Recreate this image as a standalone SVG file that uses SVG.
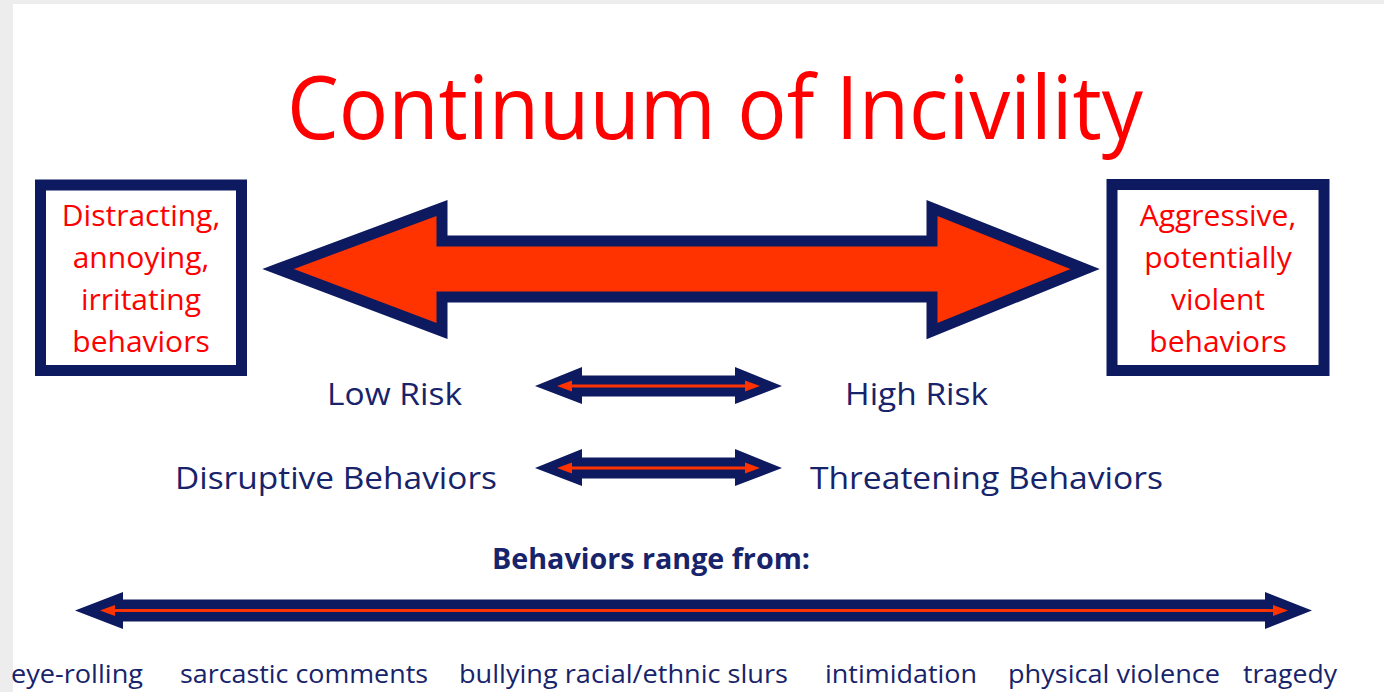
<svg xmlns="http://www.w3.org/2000/svg" width="1384" height="692" viewBox="0 0 1384 692">
<defs>
<style>
.navy{fill:#0E1A5F}
.big{fill:#FF3300;stroke:#0E1A5F;stroke-width:11;stroke-linejoin:miter;stroke-miterlimit:10}
.box{fill:#FFFFFF;stroke:#0E1A5F;stroke-width:11}
.redline{stroke:#FF3300;stroke-width:3;fill:none}
.redhead{fill:#FF3300}
.title{font-family:"Open Sans","Liberation Sans",sans-serif;font-size:87px;fill:#FF0000}
.boxt{font-family:"Open Sans","Liberation Sans",sans-serif;font-size:30px;fill:#FF0000;text-anchor:middle}
.lab{font-family:"Open Sans","Liberation Sans",sans-serif;font-size:31px;fill:#17236A}
.bold{font-family:"Open Sans","Liberation Sans",sans-serif;font-size:29px;font-weight:bold;fill:#17236A}
.small{font-family:"Open Sans","Liberation Sans",sans-serif;font-size:25px;fill:#17236A}
</style>
</defs>
<rect x="0" y="0" width="1384" height="692" fill="#EDEDED"/>
<rect x="13" y="4" width="1371" height="688" fill="#FFFFFF"/>

<g id="title">
<text class="title" x="287" y="139" textLength="856" lengthAdjust="spacingAndGlyphs">Continuum of Incivility</text>
</g>

<g id="left-box">
<rect class="box" x="40.5" y="185" width="201" height="185.5"/>
<text class="boxt" x="141" y="226">Distracting,</text>
<text class="boxt" x="141" y="268">annoying,</text>
<text class="boxt" x="141" y="310">irritating</text>
<text class="boxt" x="141" y="352">behaviors</text>
</g>

<g id="right-box">
<rect class="box" x="1112" y="184.5" width="212" height="186"/>
<text class="boxt" x="1218" y="226">Aggressive,</text>
<text class="boxt" x="1218" y="268">potentially</text>
<text class="boxt" x="1218" y="310">violent</text>
<text class="boxt" x="1218" y="352">behaviors</text>
</g>

<g id="connectors">
<polygon id="big-arrow" class="big" points="278,269 442,208 442,241 932,241 932,208 1085,269 932,331 932,297 442,297 442,331"/>
<g id="risk-arrow">
<polygon class="navy" points="535,386 582,367 582,375.5 735,375.5 735,367 782,386 735,404 735,396.5 582,396.5 582,404"/>
<line class="redline" x1="568" y1="386" x2="749" y2="386"/>
<polygon class="redhead" points="557,386 572,380.5 572,391.5"/>
<polygon class="redhead" points="760,386 745,380.5 745,391.5"/>
</g>
<g id="behavior-arrow">
<polygon class="navy" points="535,468 582,449 582,457.5 735,457.5 735,449 782,468 735,486 735,478.5 582,478.5 582,486"/>
<line class="redline" x1="568" y1="468" x2="749" y2="468"/>
<polygon class="redhead" points="557,468 572,462.5 572,473.5"/>
<polygon class="redhead" points="760,468 745,462.5 745,473.5"/>
</g>
<g id="range-arrow">
<polygon class="navy" points="75,610.5 123,592 123,599.5 1265,599.5 1265,592 1312,610.5 1265,629 1265,621.5 123,621.5 123,629"/>
<line class="redline" x1="110" y1="610.5" x2="1279" y2="610.5"/>
<polygon class="redhead" points="100,610.5 115,605 115,616"/>
<polygon class="redhead" points="1288,610.5 1273,605 1273,616"/>
</g>
</g>

<g id="low-risk"><text class="lab" x="327" y="405" textLength="135" lengthAdjust="spacingAndGlyphs">Low Risk</text></g>
<g id="high-risk"><text class="lab" x="845" y="405" textLength="143" lengthAdjust="spacingAndGlyphs">High Risk</text></g>
<g id="disruptive"><text class="lab" x="175" y="489" textLength="322" lengthAdjust="spacingAndGlyphs">Disruptive Behaviors</text></g>
<g id="threatening"><text class="lab" x="810" y="489" textLength="353" lengthAdjust="spacingAndGlyphs">Threatening Behaviors</text></g>
<g id="range-label"><text class="bold" x="492" y="569" textLength="318" lengthAdjust="spacingAndGlyphs">Behaviors range from:</text></g>

<g id="examples">
<text class="small" x="11" y="683" textLength="132" lengthAdjust="spacingAndGlyphs">eye-rolling</text>
<text class="small" x="180" y="683" textLength="248" lengthAdjust="spacingAndGlyphs">sarcastic comments</text>
<text class="small" x="459" y="683" textLength="329" lengthAdjust="spacingAndGlyphs">bullying racial/ethnic slurs</text>
<text class="small" x="825" y="683" textLength="152" lengthAdjust="spacingAndGlyphs">intimidation</text>
<text class="small" x="1008" y="683" textLength="212" lengthAdjust="spacingAndGlyphs">physical violence</text>
<text class="small" x="1243" y="683" textLength="94" lengthAdjust="spacingAndGlyphs">tragedy</text>
</g>
</svg>
